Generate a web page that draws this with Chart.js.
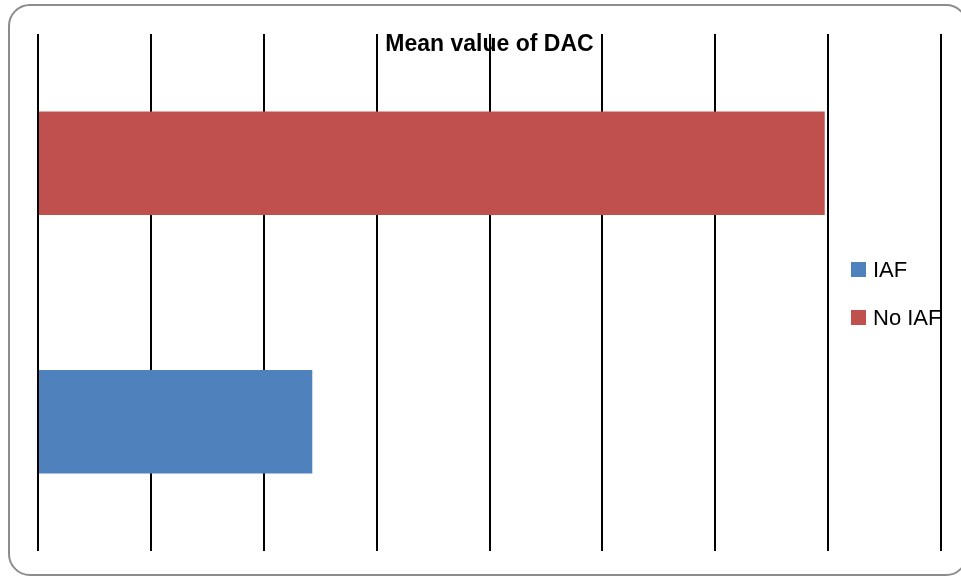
<!DOCTYPE html>
<html>
<head>
<meta charset="utf-8">
<title>Mean value of DAC</title>
<script src="https://cdn.jsdelivr.net/npm/chart.js@4.4.1/dist/chart.umd.min.js"></script>
<style>
    html, body { margin: 0; padding: 0; background: #fff; }
    #wrap { position: relative; width: 961px; height: 577px; overflow: hidden; }
    #frame {
        position: absolute; left: 8px; top: 4px; width: 960px; height: 572px;
        box-sizing: border-box; border: 2px solid #8c8c8c; border-radius: 22px;
    }
    #dac { position: absolute; left: 0; top: 0; }
</style>
</head>
<body>
<div id="wrap">
    <div id="frame"></div>
    <canvas id="dac" width="961" height="577"></canvas>
</div>
<script>
// rows, top to bottom
const categories = ["No IAF", "IAF"];
const seriesNames = ["IAF", "No IAF"];
const iafValues = [null, 2.43];
const noIafValues = [6.97, null];
const seriesColors = ["#4F81BD", "#C0504D"];
const axisMax = 8;
const titleText = "Mean value of DAC";

// title + legend painted before the grid so the lines cross over them
const overlayText = {
    id: "overlayText",
    beforeDraw(chart) {
        const ctx = chart.ctx;
        const area = chart.chartArea;
        ctx.save();
        ctx.fillStyle = "#000";
        ctx.font = "bold 23px 'Liberation Sans', Arial, sans-serif";
        ctx.textAlign = "center";
        ctx.textBaseline = "alphabetic";
        ctx.fillText(titleText, (area.left + area.right) / 2, 51);

        // legend, clipped at the last grid line
        ctx.beginPath();
        ctx.rect(0, 0, area.right + 2, chart.height);
        ctx.clip();
        ctx.font = "22px 'Liberation Sans', Arial, sans-serif";
        ctx.textAlign = "left";
        ctx.textBaseline = "middle";
        chart.data.datasets.forEach((ds, i) => {
            const y = 269.5 + i * 48;
            ctx.fillStyle = ds.backgroundColor;
            ctx.fillRect(851, y - 7.5, 15, 15);
            ctx.fillStyle = "#000";
            ctx.fillText(ds.label, 873, y + 1);
        });
        ctx.restore();
    }
};

new Chart(document.getElementById("dac"), {
    type: "bar",
    data: {
        labels: categories,
        datasets: [
            { label: seriesNames[0], data: iafValues, backgroundColor: seriesColors[0] },
            { label: seriesNames[1], data: noIafValues, backgroundColor: seriesColors[1] }
        ]
    },
    options: {
        indexAxis: "y",
        responsive: false,
        animation: false,
        skipNull: true,
        categoryPercentage: 0.8,
        barPercentage: 0.5,
        layout: { padding: { left: 38, right: 20, top: 34, bottom: 26 } },
        plugins: {
            legend: { display: false },
            title: { display: false },
            tooltip: { enabled: false }
        },
        scales: {
            x: {
                min: 0,
                max: axisMax,
                ticks: { display: false, stepSize: 1 },
                grid: { color: "#000", lineWidth: 2, drawTicks: false },
                border: { display: false }
            },
            y: { display: false }
        }
    },
    plugins: [overlayText]
});
</script>
</body>
</html>
